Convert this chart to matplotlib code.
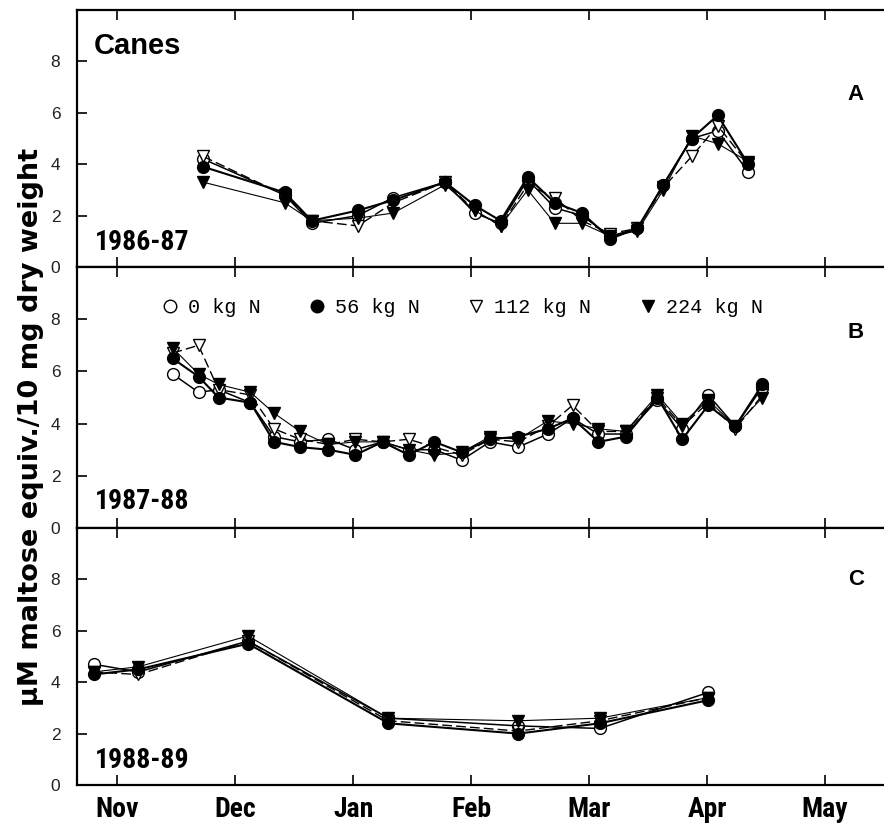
import matplotlib
matplotlib.use("Agg")
import matplotlib.pyplot as plt
from matplotlib import font_manager
from matplotlib.lines import Line2D

# x positions are in months after 1 Nov (Nov=0, Dec=1, ... May=6)
months = ["Nov", "Dec", "Jan", "Feb", "Mar", "Apr", "May"]
treatments = ["0 kg N", "56 kg N", "112 kg N", "224 kg N"]

# 1986-87
x_a = [0.73, 1.42, 1.65, 2.04, 2.34, 2.78, 3.03, 3.25, 3.48, 3.71, 3.94,
       4.18, 4.41, 4.63, 4.87, 5.09, 5.35]
a_0 = [4.2, 2.8, 1.7, 2.0, 2.7, 3.3, 2.1, 1.7, 3.4, 2.3, 2.0, 1.2, 1.5, 3.2, 5.0, 5.3, 3.7]
a_56 = [3.9, 2.9, 1.8, 2.2, 2.6, 3.3, 2.4, 1.8, 3.5, 2.5, 2.1, 1.1, 1.5, 3.2, 5.0, 5.9, 4.0]
a_112 = [4.3, 2.8, 1.8, 1.6, 2.5, 3.3, 2.2, 1.6, 3.2, 2.7, 1.8, 1.3, 1.5, 3.1, 4.3, 5.5, 4.0]
a_224 = [3.3, 2.5, 1.8, 1.9, 2.1, 3.2, 2.2, 1.6, 3.0, 1.7, 1.7, 1.2, 1.4, 3.0, 5.1, 4.8, 4.1]

# 1987-88
x_b = [0.47, 0.69, 0.86, 1.13, 1.33, 1.55, 1.79, 2.02, 2.25, 2.47, 2.69, 2.92,
       3.16, 3.40, 3.65, 3.86, 4.08, 4.31, 4.58, 4.79, 5.01, 5.24, 5.47]
b_0 = [5.9, 5.2, 5.3, 4.8, 3.5, 3.3, 3.4, 3.0, 3.3, 3.0, 3.0, 2.6,
       3.3, 3.1, 3.6, 4.2, 3.6, 3.6, 4.9, 3.8, 5.1, 3.9, 5.4]
b_56 = [6.5, 5.8, 5.0, 4.8, 3.3, 3.1, 3.0, 2.8, 3.3, 2.8, 3.3, 2.9,
        3.4, 3.5, 3.8, 4.2, 3.3, 3.5, 5.0, 3.4, 4.7, 3.9, 5.5]
b_112 = [6.7, 7.0, 5.3, 5.1, 3.8, 3.4, 3.2, 3.4, 3.3, 3.4, 3.1, 2.8,
         3.4, 3.3, 3.9, 4.7, 3.7, 3.7, 5.0, 3.9, 4.8, 3.8, 5.1]
b_224 = [6.9, 5.9, 5.5, 5.2, 4.4, 3.7, 3.2, 3.3, 3.3, 3.0, 2.8, 2.9,
         3.5, 3.4, 4.1, 4.0, 3.8, 3.7, 5.1, 4.0, 4.9, 3.9, 5.0]

# 1988-89
x_c = [-0.20, 0.18, 1.11, 2.30, 3.40, 4.09, 5.01]
c_0 = [4.7, 4.4, 5.6, 2.6, 2.3, 2.2, 3.6]
c_56 = [4.3, 4.5, 5.5, 2.4, 2.0, 2.4, 3.3]
c_112 = [4.4, 4.3, 5.6, 2.5, 2.1, 2.5, 3.4]
c_224 = [4.4, 4.6, 5.8, 2.6, 2.5, 2.6, 3.4]

seasons = ["1986-87", "1987-88", "1988-89"]
panel_tags = ["A", "B", "C"]

styles = {
    "0 kg N": dict(marker="o", mfc="white", ls="-", lw=1.1, zorder=3),
    "56 kg N": dict(marker="o", mfc="black", ls="-", lw=1.5, zorder=5),
    "112 kg N": dict(marker="v", mfc="white", ls=(0, (7, 3)), lw=1.0, zorder=3.5),
    "224 kg N": dict(marker="v", mfc="black", ls="-", lw=0.8, zorder=4),
}

data = [
    (x_a, [a_0, a_56, a_112, a_224]),
    (x_b, [b_0, b_56, b_112, b_224]),
    (x_c, [c_0, c_56, c_112, c_224]),
]


def first_font(names):
    # pick the first family actually installed
    for n in names:
        try:
            font_manager.findfont(font_manager.FontProperties(family=n, weight="bold"),
                                  fallback_to_default=False)
            return n
        except Exception:
            continue
    return "DejaVu Sans"


narrow = first_font(["Liberation Sans Narrow", "DejaVu Sans Condensed", "Roboto Condensed",
                     "Liberation Sans"])

fig = plt.figure(figsize=(8.84, 8.25), dpi=100)
left, right = 77 / 884, 1.0
tops = [10, 267, 528]
bottoms = [267, 528, 785]
axes = []
for top, bot in zip(tops, bottoms):
    ax = fig.add_axes([left, 1 - bot / 825, right - left, (bot - top) / 825])
    axes.append(ax)

month_font = dict(family=narrow, weight="bold", size=20)

for i, ax in enumerate(axes):
    xs, series = data[i]
    for name, ys in zip(treatments, series):
        st = styles[name]
        ax.plot(xs, ys, color="black", marker=st["marker"], mfc=st["mfc"], mec="black",
                ms=8.5, mew=1.0, ls=st["ls"], lw=st["lw"], zorder=st["zorder"])
    ax.set_xlim(-0.34, 6.5)
    ax.set_ylim(0, 10)
    ax.set_yticks([0, 2, 4, 6, 8])
    ax.set_xticks(range(len(months)))
    ax.tick_params(axis="both", direction="in", length=7, width=1.2, top=True,
                   labelsize=12.5, labelcolor="#222222")
    ax.tick_params(axis="y", pad=12)
    for lab in ax.get_yticklabels():
        lab.set_fontfamily("Liberation Sans")
    if i < 2:
        ax.set_xticklabels([])
    else:
        ax.set_xticklabels(months, fontdict=month_font)
        ax.tick_params(axis="x", pad=8, labelcolor="black")
    for side in ["left", "bottom", "top"]:
        ax.spines[side].set_linewidth(1.6)
    ax.spines["right"].set_visible(False)
    ax.text(0.022, 0.095 if i != 1 else 0.1, seasons[i], transform=ax.transAxes,
            fontsize=20, fontweight="bold", family=narrow, va="center")
    tag_y = [0.67, 0.75, 0.80][i]
    ax.text(0.965, tag_y, panel_tags[i], transform=ax.transAxes, fontsize=16,
            fontweight="bold", family="Liberation Sans", ha="center", va="center")

axes[0].text(0.021, 0.86, "Canes", transform=axes[0].transAxes, fontsize=21,
             fontweight="bold", family="Liberation Sans", va="center")

handles = [Line2D([], [], color="black", ls="none", marker=styles[n]["marker"],
                  mfc=styles[n]["mfc"], mec="black", ms=9) for n in treatments]
axes[1].legend(handles, treatments, loc="center", bbox_to_anchor=(0.475, 0.843),
               ncol=4, frameon=False, handletextpad=0.3, columnspacing=2.2,
               handlelength=1.2,
               prop=dict(family="Liberation Mono", size=14.5))

fig.text(0.035, 0.482, "\u03bcM maltose equiv./10 mg dry weight", rotation=90,
         fontsize=19.5, fontweight="bold", family="DejaVu Sans",
         ha="center", va="center")

fig.savefig("out.png", dpi=100)
